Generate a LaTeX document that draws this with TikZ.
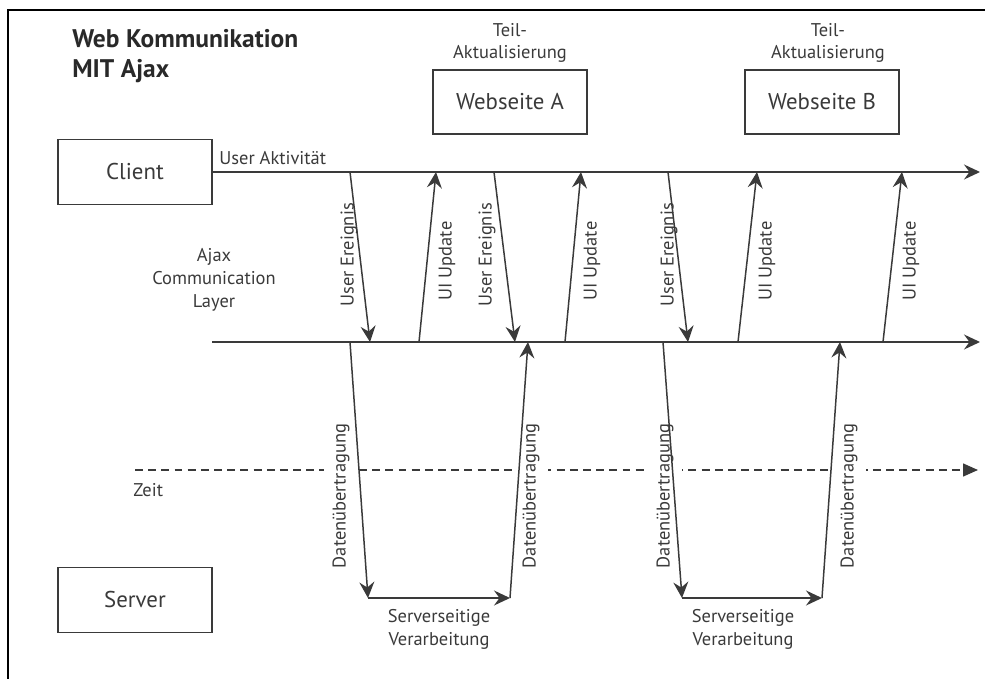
\documentclass[tikz,border=0pt]{standalone}
\usepackage{fontspec}
\setmainfont{PT Sans}
\usepackage{xcolor}
\usetikzlibrary{arrows.meta}
\definecolor{inkgray}{HTML}{3A3A3A}
\tikzset{
  lanebox/.style={
    draw=inkgray,
    line width=1.1pt,
    minimum width=3.08cm,
    minimum height=1.3cm,
    text=inkgray,
    font=\fontsize{13}{15}\selectfont
  },
  pagebox/.style={
    lanebox,
    minimum width=3.08cm,
    minimum height=1.28cm
  },
  smalltext/.style={
    text=inkgray,
    align=center,
    inner sep=0pt,
    font=\fontsize{10.5}{13}\selectfont
  },
  vlabel/.style={
    smalltext,
    rotate=90
  },
  vlabelfill/.style={
    vlabel,
    fill=white,
    inner xsep=0pt,
    inner ysep=5pt
  },
  lane/.style={
    draw=inkgray,
    line width=0.85pt
  },
  lanearrow/.style={
    lane,
    -{Stealth[length=3.2mm,width=3mm,inset=1.1mm]}
  },
  msgarrow/.style={
    lane,
    -{Stealth[length=3.2mm,width=3mm,inset=1.1mm]}
  },
  zeitarrow/.style={
    lane,
    dash pattern=on 4.5pt off 3pt,
    -{Triangle[length=3mm,width=2.6mm]}
  },
  frameline/.style={
    draw=black,
    line width=1.2pt
  }
}
\begin{document}
\begin{tikzpicture}[x=0.02cm,y=-0.02cm]
    \useasboundingbox (0,0) rectangle (985,679);
    \draw[frameline] (8,679) -- (8,10) -- (985,10);

    % Titel und Boxen
    \node[text=inkgray!70!black, align=left, anchor=north west, inner sep=0pt,
          font=\bfseries\fontsize{14.5}{17}\selectfont] (titel) at (72,29)
        {Web Kommunikation\\MIT Ajax};
    \node[lanebox] (client) at (135,172) {Client};
    \node[lanebox] (server) at (135,600) {Server};
    \node[pagebox] (seiteA) at (510,102) {Webseite A};
    \node[pagebox] (seiteB) at (822,102) {Webseite B};
    \node[smalltext] (teilA) at (510,43) {Teil-\\Aktualisierung};
    \node[smalltext] (teilB) at (828,43) {Teil-\\Aktualisierung};
    \node[smalltext, anchor=south west] (aktiv) at (219,165) {User Aktivität};
    \node[smalltext] (ajaxlayer) at (214,280) {Ajax\\Communication\\Layer};
    \node[smalltext, anchor=west] (zeit) at (133,490) {Zeit};

    % Zeitachse
    \coordinate (zeitstart) at (135,470);
    \coordinate (zeitend) at (978,470);
    \draw[zeitarrow] (zeitstart) -- (zeitend);

    % Linien
    \coordinate (clientend) at (980,172);
    \coordinate (ajaxstart) at (212,342);
    \coordinate (ajaxend) at (980,342);
    \draw[lanearrow] (client.east) -- (clientend);
    \draw[lanearrow] (ajaxstart) -- (ajaxend);

    % Punkte auf der Client-Linie
    \coordinate (ce1) at (350,172);
    \coordinate (ce2) at (494,172);
    \coordinate (ce3) at (668,172);
    \coordinate (cu1) at (436,172);
    \coordinate (cu2) at (581,172);
    \coordinate (cu3) at (757,172);
    \coordinate (cu4) at (902,172);
    % Punkte auf der Ajax-Linie
    \coordinate (ae1) at (370,342);
    \coordinate (ae2) at (515,342);
    \coordinate (ae3) at (688,342);
    \coordinate (au1) at (419,342);
    \coordinate (au2) at (565,342);
    \coordinate (au3) at (738,342);
    \coordinate (au4) at (883,342);
    \coordinate (ad1) at (350,342);
    \coordinate (ar1) at (528,342);
    \coordinate (ad2) at (663,342);
    \coordinate (ar2) at (840,342);
    % Punkte beim Server
    \coordinate (sd1) at (368,598);
    \coordinate (sr1) at (510,598);
    \coordinate (sd2) at (682,598);
    \coordinate (sr2) at (822,598);

    % Beschriftungen
    \node[vlabel] (ereignis1) at (349,255) {User Ereignis};
    \node[vlabel] (ereignis2) at (487,255) {User Ereignis};
    \node[vlabel] (ereignis3) at (669,255) {User Ereignis};
    \node[vlabel] (update1) at (447,261) {UI Update};
    \node[vlabel] (update2) at (592,261) {UI Update};
    \node[vlabel] (update3) at (767,261) {UI Update};
    \node[vlabel] (update4) at (911,261) {UI Update};
    \node[vlabelfill] (daten1) at (341,496) {Datenübertragung};
    \node[vlabelfill] (daten2) at (531,496) {Datenübertragung};
    \node[vlabelfill] (daten3) at (665,496) {Datenübertragung};
    \node[vlabelfill] (daten4) at (849,496) {Datenübertragung};
    \node[smalltext] (verarb1) at (439,629) {Serverseitige\\Verarbeitung};
    \node[smalltext] (verarb2) at (743,629) {Serverseitige\\Verarbeitung};

    % Client -> Ajax
    \draw[msgarrow] (ce1) -- (ae1);
    \draw[msgarrow] (ce2) -- (ae2);
    \draw[msgarrow] (ce3) -- (ae3);
    % Ajax -> Client
    \draw[msgarrow] (au1) -- (cu1);
    \draw[msgarrow] (au2) -- (cu2);
    \draw[msgarrow] (au3) -- (cu3);
    \draw[msgarrow] (au4) -- (cu4);
    % Ajax <-> Server
    \draw[msgarrow] (ad1) -- (sd1);
    \draw[msgarrow] (sd1) -- (sr1);
    \draw[msgarrow] (sr1) -- (ar1);
    \draw[msgarrow] (ad2) -- (sd2);
    \draw[msgarrow] (sd2) -- (sr2);
    \draw[msgarrow] (sr2) -- (ar2);
\end{tikzpicture}
\end{document}
